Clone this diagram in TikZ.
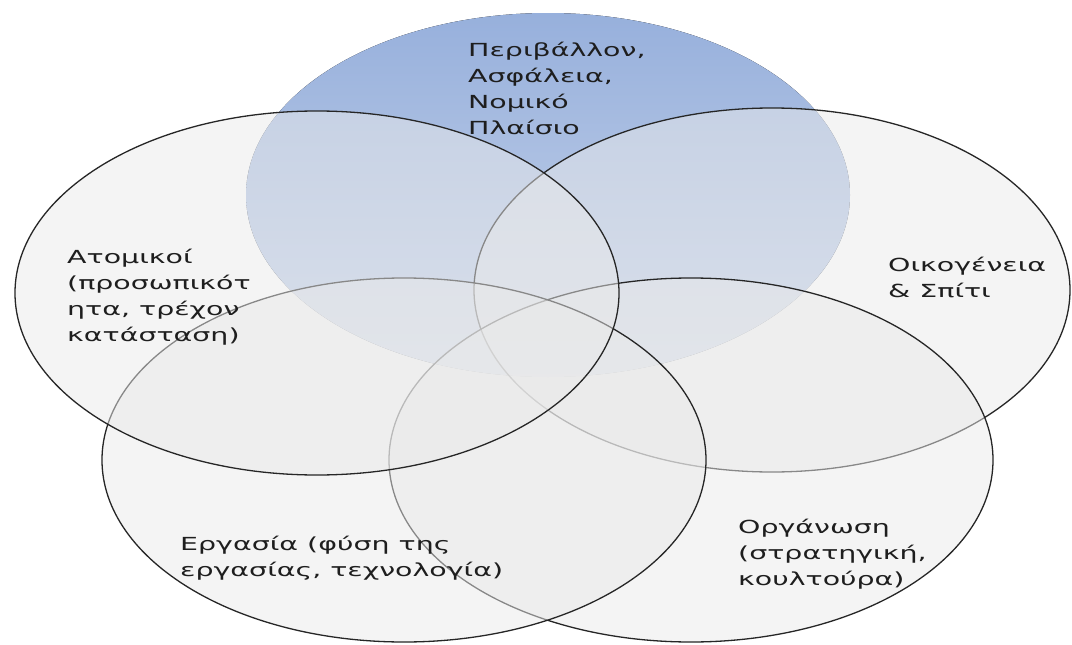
\documentclass[tikz,border=0pt]{standalone}
\usepackage{fontspec}
\newfontfamily\grfont[FakeStretch=1.58]{DejaVu Sans}
\definecolor{bluetop}{HTML}{97B0DC}
\definecolor{bluebot}{HTML}{CAD6EB}
\definecolor{ovfill}{HTML}{EAEAEA}
\definecolor{ovline}{HTML}{262626}
\definecolor{txt}{HTML}{1E1E1E}
\begin{document}
\begin{tikzpicture}[x=1pt,y=-1pt,
  ov/.style={draw=ovline, line width=1.3pt, fill=ovfill, fill opacity=0.5, draw opacity=1},
  lbl/.style={font=\grfont\fontsize{18}{26}\selectfont, text=txt, align=left, anchor=base west, inner sep=0pt}]
\useasboundingbox (0,0) rectangle (1072,645);
\fill[white] (0,0) rectangle (1072,645);
% blue background ellipse
\fill[top color=bluetop, bottom color=bluebot] (548,195) ellipse [x radius=302pt, y radius=182pt];
% outlined ellipses (drawing order matters for faded lines)
\path[ov] (772,290) ellipse [x radius=298pt, y radius=182pt];
\path[ov] (691,460) ellipse [x radius=302pt, y radius=182pt];
\path[ov] (404,460) ellipse [x radius=302pt, y radius=182pt];
\path[ov] (317,293) ellipse [x radius=302pt, y radius=182pt];
% labels (anchor = baseline of the last line)
\node[lbl] (env)  at (468,134) {Περιβάλλον,\\Ασφάλεια,\\Νομικό\\Πλαίσιο};
\node[lbl] (ind)  at (67,341)  {Ατομικοί\\(προσωπικότ\\ητα, τρέχον\\κατάσταση)};
\node[lbl] (fam)  at (888,297) {Οικογένεια\\\& Σπίτι};
\node[lbl] (work) at (180,576) {Εργασία (φύση της\\εργασίας, τεχνολογία)};
\node[lbl] (org)  at (738,585) {Οργάνωση\\(στρατηγική,\\κουλτούρα)};
\end{tikzpicture}
\end{document}
